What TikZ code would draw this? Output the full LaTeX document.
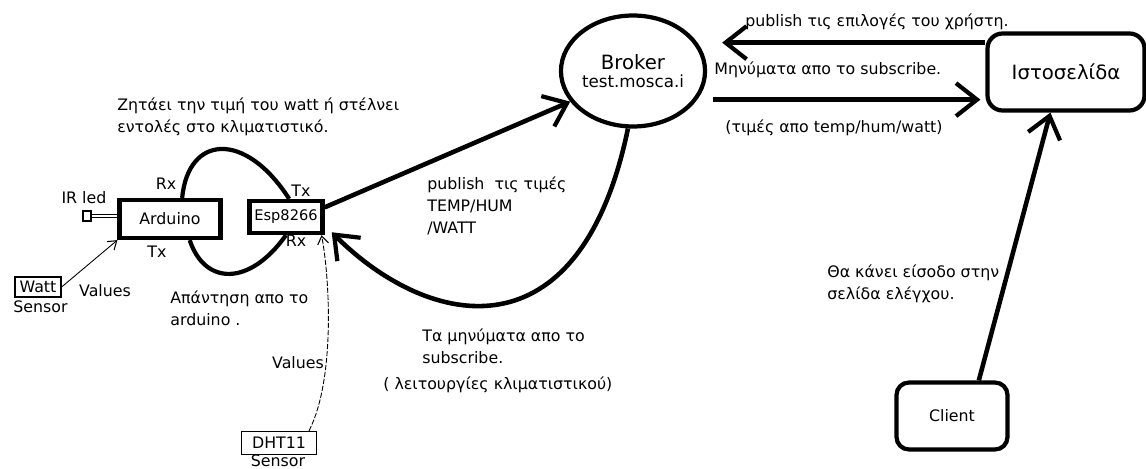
\documentclass[tikz,border=0pt]{standalone}
\usepackage{fontspec}
\setmainfont{DejaVu Sans}
\usetikzlibrary{arrows.meta}
\usetikzlibrary{shapes.geometric}
\newcommand*{\mytextstyle}{\fontsize{9pt}{12.5pt}\selectfont}
\newcommand*{\bigtextstyle}{\fontsize{11.2pt}{13pt}\selectfont}
\newcommand*{\hosttextstyle}{\fontsize{9.5pt}{10pt}\selectfont}

\begin{document}
\begin{tikzpicture}[x=0.02cm, y=-0.02cm, font=\mytextstyle,
   thickline/.style={line width=2.6pt, -{Straight Barb[length=0.42cm, width=0.66cm, line width=2.4pt]}},
   thinline/.style={line width=0.5pt, -{Straight Barb[length=0.16cm, width=0.22cm, line width=0.6pt]}},
   device/.style={draw, line width=2.4pt, rectangle, inner sep=0pt},
   sensor/.style={draw, line width=0.7pt, rectangle, inner sep=0pt},
   note/.style={align=left, anchor=west, inner sep=0pt}]

   \useasboundingbox (0,0) rectangle (1146,469);

   \node[draw, ellipse, line width=2.4pt, minimum width=2.52cm, minimum height=2.22cm,
         align=center, inner sep=0pt] (broker) at (633,71)
         {{\bigtextstyle Broker}\\[-2pt]{\hosttextstyle test.mosca.i}};
   \node[draw, rounded corners=0.3cm, line width=2.4pt, minimum width=3.14cm,
         minimum height=1.54cm, font=\bigtextstyle] (web) at (1066,72) {Ιστοσελίδα};
   \node[draw, rounded corners=0.25cm, line width=2.4pt, minimum width=2.22cm,
         minimum height=1.34cm] (client) at (952,416) {Client};

   \node[device, minimum width=2.02cm, minimum height=0.76cm] (arduino) at (170,219) {Arduino};
   \node[device, minimum width=1.46cm, minimum height=0.64cm,
         font=\fontsize{8.3pt}{10pt}\selectfont] (esp) at (286,217) {Esp8266};
   \node[draw, line width=0.6pt, minimum width=0.16cm, minimum height=0.2cm,
         inner sep=0pt] (irled) at (87,216) {};
   \node[sensor, minimum width=0.92cm, minimum height=0.4cm] (watt) at (38,287) {Watt};
   \node[sensor, minimum width=1.5cm, minimum height=0.46cm] (dht) at (279,443) {DHT11};

   \node (irtext) at (84,198) {IR led};
   \node (ardrx) at (166,184) {Rx};
   \node (ardtx) at (157,252) {Tx};
   \node (esptx) at (301,191) {Tx};
   \node (esprx) at (296,241) {Rx};
   \node (wattval) at (105,291) {Values};
   \node[note] (wattsensor) at (13,307) {Sensor};
   \node (dhtval) at (298,363) {Values};
   \node (dhtsensor) at (278,461) {Sensor};

   \node[note] (asktext) at (117,117) {Ζητάει την τιμή του watt ή στέλνει\\εντολές στο κλιματιστικό.};
   \node[note] (replytext) at (170,308) {Απάντηση απο το\\arduino .};
   \node[note] (pubtext) at (427,206) {publish~~τις τιμές\\TEMP/HUM\\/WATT};
   \node[note] (subtext) at (422,346) {Τα μηνύματα απο το\\subscribe.};
   \node[note] (functext) at (383,385) {( λειτουργίες κλιματιστικού)};
   \node[note] (choicetext) at (745,22) {publish τις επιλογές του χρήστη.};
   \node[note] (msgtext) at (714,70) {Μηνύματα απο το subscribe.};
   \node[note] (valtext) at (725,128) {(τιμές απο temp/hum/watt)};
   \node[note] (logintext) at (827,284) {Θα κάνει είσοδο στην\\σελίδα ελέγχου.};

   % serial link
   \draw[line width=2.4pt] (arduino.60) .. controls (188,135) and (245,130) .. (esp.80);
   \draw[line width=2.4pt] (arduino.-47) .. controls (205,286) and (250,286) .. (esp.south);

   % mqtt
   \draw[thickline] (esp.14) -- (broker.206);
   \draw[thickline, shorten >=0.2cm] (broker.265) .. controls (580,360) and (430,330) .. (esp.-12);
   \draw[thickline, shorten >=0.3cm] (web.160) -- (web.160 -| broker.east);
   \draw[thickline, shorten <=0.32cm, shorten >=0.1cm] (broker.-24) -- (broker.-24 -| web.west);
   \draw[thickline] (client.53) -- (web.-111);

   % sensors
   \draw[thinline] (watt.east) -- (arduino.south west);
   \draw[thinline, dash pattern=on 3pt off 1pt] (dht.22) .. controls (335,380) and (330,280) .. (esp.-27);
   \draw[double, double distance=0.05cm, line width=0.5pt] (irled.east) -- (irled.east -| arduino.west);

\end{tikzpicture}
\end{document}
